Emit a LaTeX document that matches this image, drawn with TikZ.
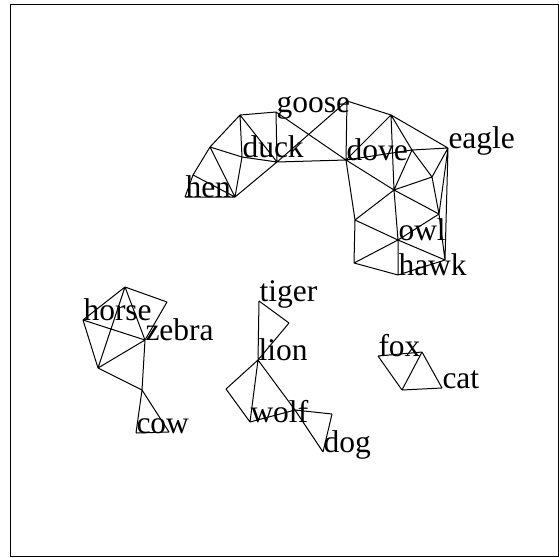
\documentclass[tikz,border=0pt]{standalone}
\usepackage{fontspec}
\setmainfont{Liberation Serif}
\usetikzlibrary{positioning}

\begin{document}
\begin{tikzpicture}[x=1pt, y=-1pt, line width=1pt,
  lbl/.style={anchor=base west, inner sep=0pt, font=\fontsize{31.5}{36}\selectfont},
  edge/.style={draw=black, line join=round}]
  \useasboundingbox (0,0) rectangle (559,557);
  \draw[line width=1pt] (10.7,4) rectangle (558.5,556);

  % birds, left part
  \coordinate (hen) at (185,197);
  \coordinate (b1) at (193,175);
  \coordinate (b3) at (235,197);
  \coordinate (b4) at (210,147);
  \coordinate (b5) at (240,115);
  \coordinate (goose) at (276,112);
  \coordinate (duck) at (242,157);
  \coordinate (b8) at (277,162);
  % birds, right part
  \coordinate (b9) at (347,101);
  \coordinate (b10) at (391,115);
  \coordinate (dove) at (346,160);
  \coordinate (eagle) at (448,148);
  \coordinate (b11) at (412,150);
  \coordinate (b12) at (432,177);
  \coordinate (b13) at (394,190);
  \coordinate (b14) at (439,214);
  \coordinate (b15) at (355,220);
  \coordinate (owl) at (398,240);
  \coordinate (b16) at (354,263);
  \coordinate (hawk) at (398,275);
  \coordinate (b17) at (445,260);
  % horse family
  \coordinate (h1) at (125,287);
  \coordinate (horse) at (83,320);
  \coordinate (h2) at (167,302);
  \coordinate (zebra) at (145,340);
  \coordinate (h3) at (98,368);
  \coordinate (h4) at (142,390);
  \coordinate (cow) at (136,433);
  \coordinate (h5) at (169,432);
  % cats and dogs
  \coordinate (tiger) at (259,301);
  \coordinate (t1) at (289,323);
  \coordinate (lion) at (258,360);
  \coordinate (t2) at (226,389);
  \coordinate (wolf) at (250,422);
  \coordinate (t3) at (295,410);
  \coordinate (t4) at (332,414);
  \coordinate (dog) at (323,452);
  \coordinate (fox) at (378,356);
  \coordinate (f1) at (422,352);
  \coordinate (f2) at (402,390);
  \coordinate (cat) at (442,388);

  \draw[edge] (hen) -- (b1) (hen) -- (b3) (b1) -- (b3) (b1) -- (b4) (b4) -- (b3)
    (b4) -- (b5) (b4) -- (duck) (duck) -- (b3) (b5) -- (duck) (b5) -- (goose)
    (b5) -- (b8) (duck) -- (b8) (b3) -- (b8) (goose) -- (b8) (goose) -- (dove)
    (b8) -- (b9) (b8) -- (dove);
  \draw[edge] (b9) -- (b10) (b9) -- (dove) (b10) -- (dove) (b10) -- (b11) (b10) -- (b13)
    (b10) -- (eagle) (dove) -- (b11) (dove) -- (b13) (b11) -- (eagle) (b11) -- (b13)
    (b11) -- (b12) (eagle) -- (b12) (b12) -- (b13) (b12) -- (b14) (eagle) -- (b14)
    (eagle) -- (b17) (b13) -- (b14) (b13) -- (b15) (dove) -- (b15) (b13) -- (owl)
    (b15) -- (owl) (b14) -- (owl) (b14) -- (b17) (owl) -- (b17) (b15) -- (b16)
    (b16) -- (owl) (b16) -- (hawk) (owl) -- (hawk) (hawk) -- (b17);
  \draw[edge] (h1) -- (horse) (h1) -- (h2) (h1) -- (zebra) (h1) -- (h3) (h2) -- (zebra)
    (horse) -- (zebra) (horse) -- (h3) (h3) -- (zebra) (zebra) -- (h4) (h3) -- (h4)
    (h4) -- (cow) (h4) -- (h5) (cow) -- (h5);
  \draw[edge] (tiger) -- (t1) (t1) -- (lion) (tiger) -- (lion) (lion) -- (t2) (t2) -- (wolf)
    (lion) -- (wolf) (lion) -- (t3) (t3) -- (dog) (wolf) -- (t3) (t3) -- (t4) (t4) -- (dog);
  \draw[edge] (fox) -- (f1) (fox) -- (f2) (f1) -- (f2) (f1) -- (cat) (f2) -- (cat);

  \node[lbl] (henlbl) at (hen) {hen};
  \node[lbl] (gooselbl) at (goose) {goose};
  \node[lbl] (ducklbl) at (duck) {duck};
  \node[lbl] (dovelbl) at (dove) {dove};
  \node[lbl] (eaglelbl) at (eagle) {eagle};
  \node[lbl] (owllbl) at (owl) {owl};
  \node[lbl] (hawklbl) at (hawk) {hawk};
  \node[lbl] (horselbl) at (horse) {horse};
  \node[lbl] (zebralbl) at (zebra) {zebra};
  \node[lbl] (cowlbl) at (cow) {cow};
  \node[lbl] (tigerlbl) at (tiger) {tiger};
  \node[lbl] (lionlbl) at (lion) {lion};
  \node[lbl] (wolflbl) at (wolf) {wolf};
  \node[lbl] (doglbl) at (dog) {dog};
  \node[lbl] (foxlbl) at (fox) {fox};
  \node[lbl] (catlbl) at (cat) {cat};
\end{tikzpicture}
\end{document}
